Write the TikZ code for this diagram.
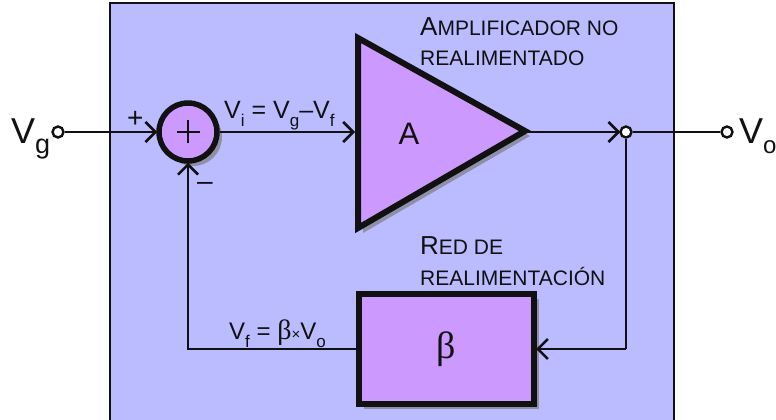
\documentclass[tikz,border=0pt]{standalone}
\usepackage{fontspec}
\setmainfont{Liberation Sans}
\newfontfamily\greekfont{Liberation Serif}
\usetikzlibrary{arrows.meta,shadows}
\definecolor{panelblue}{HTML}{BBBBFF}
\definecolor{blockpurple}{HTML}{CC99FF}
\definecolor{shadowgrey}{HTML}{8F8FA8}
\definecolor{inkblack}{HTML}{111111}
\newcommand{\fs}[1]{\fontsize{#1}{#1}\selectfont}
\newcommand{\capsA}[2]{{\fs{26}#1}{\fs{21}#2}}
\newcommand{\sub}[1]{\raisebox{-0.35em}{\fs{17}#1}}
\tikzset{
  every node/.style={text=inkblack},
  conn/.style={draw=inkblack,line width=2.6pt},
  arrowed/.style={conn,-{Straight Barb[length=10pt,width=20pt,line width=2.6pt]},shorten >=-1pt},
  hollow/.style={circle,draw=inkblack,line width=2.4pt,fill=white,minimum size=11pt,inner sep=0pt},
  blockshadow/.style={drop shadow={shadow xshift=5pt,shadow yshift=-5pt,fill=shadowgrey,opacity=1}},
  lbl/.style={inner sep=0pt,anchor=base west},
}
\begin{document}
\begin{tikzpicture}[x=1pt,y=-1pt]
\useasboundingbox (0,0) rectangle (776,420);
\fill[white] (0,0) rectangle (776,420);
\fill[panelblue] (110,3) rectangle (674,421);
\draw[conn] (110,421) -- (110,3) -- (674,3) -- (674,421);

\coordinate (triTop) at (358,38);
\coordinate (triBot) at (358,228);
\coordinate (triTip) at (525,131);
\coordinate (triIn) at (354,132);
\coordinate (fbCorner) at (626,349);
\coordinate (sumCorner) at (188,349);

\fill[shadowgrey] ([shift={(5,5)}]triTop) -- ([shift={(5,5)}]triTip) -- ([shift={(5,5)}]triBot) -- cycle;
\draw[fill=blockpurple,draw=inkblack,line width=6pt,line join=miter,miter limit=3] (triTop) -- (triTip) -- (triBot) -- cycle;

\node[circle,draw=inkblack,fill=blockpurple,line width=5.5pt,minimum size=58pt,inner sep=0pt,blockshadow] (sum) at (188,132) {};
\draw[inkblack,line width=2.6pt] (177,132) -- (200,132) (188,120) -- (188,143);

\node[rectangle,draw=inkblack,fill=blockpurple,line width=6pt,minimum width=175pt,minimum height=110pt,inner sep=0pt,blockshadow] (beta) at (446.5,349) {\fs{38}\greekfont β};

\node[hollow] (vg) at (58,132) {};
\node[hollow] (vo) at (727,132) {};
\node[hollow] (junction) at (626,132) {};

\draw[arrowed] (vg) -- (sum);
\draw[arrowed] (sum) -- (triIn);
\draw[conn] (junction) -- (vo);
\draw[arrowed] (triTip |- junction) -- (junction);
\draw[conn] (junction) -- (fbCorner);
\draw[arrowed] (fbCorner) -- (beta.east);
\draw[conn] (beta.west) -- (sumCorner) -- (188,175);
\draw[arrowed] (sumCorner) -- (sum);

\node[lbl] at (11,143) {\fs{36}V\raisebox{-0.3em}{\fs{27}g}};
\node[lbl] at (739,143) {\fs{36}V\raisebox{-0.3em}{\fs{24}o}};
\node[lbl] at (127,127) {\fs{28}+};
\node[lbl] at (197,190) {\fs{28}–};
\node[inner sep=0pt] (A) at (409,134) {\fs{31}A};
\node[lbl] at (224,118) {\fs{25}V\sub{i} = V\sub{g}–V\sub{f}};
\node[lbl] at (229,339) {\fs{24}V\sub{f} = {\greekfont\fs{28}β}{\fs{15}×}V\sub{o}};
\node[lbl] at (420,36) {\capsA{A}{MPLIFICADOR NO}};
\node[lbl] at (420,66) {{\fs{21}REALIMENTADO}};
\node[lbl] at (420,254) {\capsA{R}{ED DE}};
\node[lbl] at (420,285) {{\fs{21}REALIMENTACIÓN}};
\end{tikzpicture}
\end{document}
